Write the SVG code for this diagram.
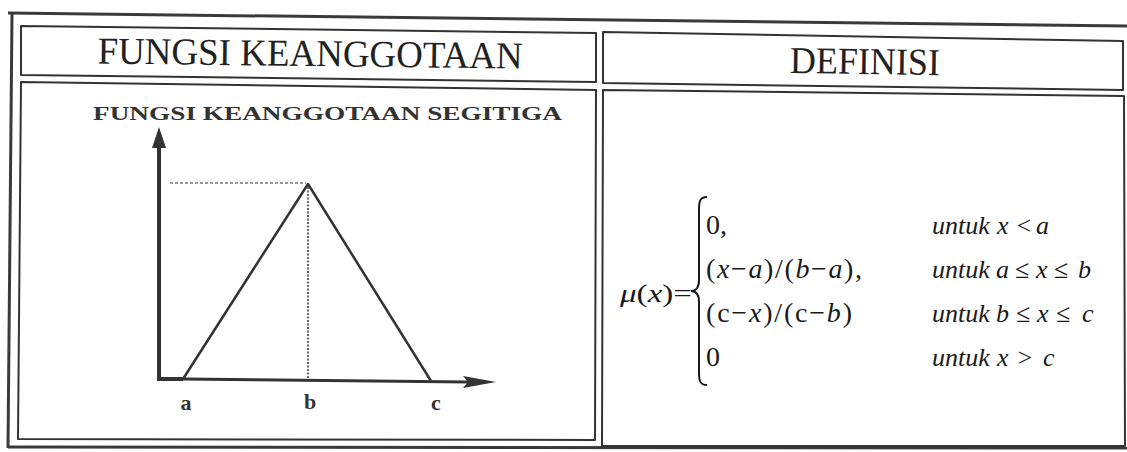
<svg xmlns="http://www.w3.org/2000/svg" width="1127" height="452" viewBox="0 0 1127 452">
<style>
.frame{fill:none;stroke:#3a3a3a;stroke-width:3;stroke-linejoin:round}
.cell{fill:none;stroke:#333;stroke-width:2;stroke-linejoin:round}
.hdr{font-family:"Liberation Serif","Times New Roman",serif;font-size:38px;fill:#222}
.sub{font-family:"Liberation Serif","Times New Roman",serif;font-size:18px;font-weight:bold;fill:#333}
.lbl{font-family:"Liberation Serif","Times New Roman",serif;font-size:22px;font-weight:bold;fill:#333}
.math{font-family:"Liberation Serif","Times New Roman",serif;font-size:26px;fill:#1a1a1a}
.big{font-size:28px}
.it{font-style:italic}
.ax{stroke:#333;fill:none;stroke-linecap:butt}
</style>
<rect width="1127" height="452" fill="#ffffff"/>
<g id="frame">
<line class="frame" x1="8" y1="13" x2="1127" y2="26"/>
<line class="frame" x1="12" y1="13" x2="8" y2="448"/>
<line class="frame" x1="8" y1="447" x2="1127" y2="448"/>
</g>
<g id="cell-header-left">
<polygon class="cell" points="21,26 596,33 596,82 21,75"/>
<text class="hdr" x="310" y="66" text-anchor="middle" textLength="425" lengthAdjust="spacingAndGlyphs" transform="rotate(0.7 310 55)">FUNGSI KEANGGOTAAN</text>
</g>
<g id="cell-header-right">
<polygon class="cell" points="603,32 1123,41 1123,90 603,83"/>
<text class="hdr" x="865" y="74" text-anchor="middle" font-size="36" textLength="150" lengthAdjust="spacingAndGlyphs" transform="rotate(0.8 865 62)">DEFINISI</text>
</g>
<g id="cell-graph">
<polygon class="cell" points="21,82 596,90 595,440 18,439"/>
<text class="sub" x="93" y="120" textLength="469" lengthAdjust="spacingAndGlyphs">FUNGSI KEANGGOTAAN SEGITIGA</text>
<line class="ax" x1="159" y1="142" x2="159" y2="381" stroke-width="4"/>
<polygon points="159,127 152,148 166,148" fill="#333"/>
<line class="ax" x1="157" y1="379" x2="183" y2="379" stroke-width="4"/>
<line class="ax" x1="183" y1="379" x2="468" y2="382" stroke-width="3"/>
<polygon points="496,382 463,376 468,382 463,388" fill="#333"/>
<polyline class="ax" points="183,379 308,184 431,381" stroke-width="2.5" stroke-linejoin="round"/>
<line class="ax" x1="170" y1="183" x2="306" y2="183" stroke-width="1.2" stroke-dasharray="3,2"/>
<line class="ax" x1="308" y1="187" x2="308" y2="379" stroke-width="1.5" stroke-dasharray="2,1.5"/>
<text class="lbl" x="186" y="410" text-anchor="middle">a</text>
<text class="lbl" x="310" y="409" text-anchor="middle">b</text>
<text class="lbl" x="436" y="410" text-anchor="middle">c</text>
</g>
<g id="cell-definition">
<polygon class="cell" points="603,90 1124,96 1125,446 602,446"/>
<text class="math" x="620" y="302" font-size="28" textLength="72" lengthAdjust="spacingAndGlyphs"><tspan class="it">μ</tspan>(<tspan class="it">x</tspan>)=</text>
<path d="M707,197 C700,197 699,201 699,210 L699,280 C699,287 696,291 691,291 C696,291 699,295 699,302 L699,372 C699,381 700,385 707,385" fill="none" stroke="#1a1a1a" stroke-width="2"/>
<text class="math big" x="706" y="234">0,</text>
<text class="math big" x="706" y="278" textLength="156" lengthAdjust="spacing">(<tspan class="it">x</tspan>−<tspan class="it">a</tspan>)/(<tspan class="it">b</tspan>−<tspan class="it">a</tspan>),</text>
<text class="math big" x="706" y="322" textLength="146" lengthAdjust="spacing">(c−<tspan class="it">x</tspan>)/(c−<tspan class="it">b</tspan>)</text>
<text class="math big" x="706" y="366">0</text>
<text class="math it" font-size="24" x="932" y="234">untuk</text>
<text class="math it" x="997 1015 1036" y="234">x&lt;a</text>
<text class="math it" font-size="24" x="932" y="278">untuk</text>
<text class="math it" x="996 1015 1036 1054 1078" y="278">a≤x≤b</text>
<text class="math it" font-size="24" x="932" y="322">untuk</text>
<text class="math it" x="996 1016 1037 1056 1082" y="322">b≤x≤c</text>
<text class="math it" font-size="24" x="932" y="366">untuk</text>
<text class="math it" x="997 1016 1043" y="366">x&gt;c</text>
</g>
</svg>
